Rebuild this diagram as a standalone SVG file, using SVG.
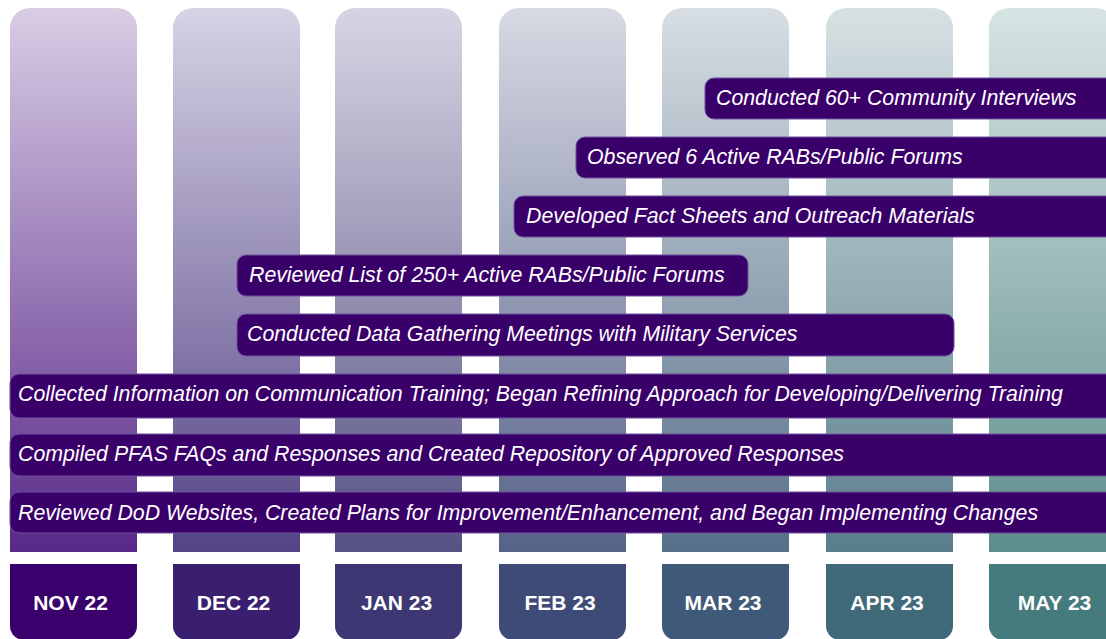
<svg xmlns="http://www.w3.org/2000/svg" width="1106" height="639" viewBox="0 0 1106 639">
  <defs>
    <linearGradient id="g1" x1="0" y1="0" x2="0" y2="1"><stop offset="0" stop-color="#d9cde4"/><stop offset="1" stop-color="#582888"/></linearGradient>
    <linearGradient id="g2" x1="0" y1="0" x2="0" y2="1"><stop offset="0" stop-color="#d7d2e4"/><stop offset="1" stop-color="#524385"/></linearGradient>
    <linearGradient id="g3" x1="0" y1="0" x2="0" y2="1"><stop offset="0" stop-color="#d7d5e3"/><stop offset="1" stop-color="#555183"/></linearGradient>
    <linearGradient id="g4" x1="0" y1="0" x2="0" y2="1"><stop offset="0" stop-color="#d7d9e3"/><stop offset="1" stop-color="#556288"/></linearGradient>
    <linearGradient id="g5" x1="0" y1="0" x2="0" y2="1"><stop offset="0" stop-color="#d7dee3"/><stop offset="1" stop-color="#566f89"/></linearGradient>
    <linearGradient id="g6" x1="0" y1="0" x2="0" y2="1"><stop offset="0" stop-color="#d7e1e3"/><stop offset="1" stop-color="#597e8b"/></linearGradient>
    <linearGradient id="g7" x1="0" y1="0" x2="0" y2="1"><stop offset="0" stop-color="#d7e4e3"/><stop offset="1" stop-color="#5c8d8c"/></linearGradient>
  </defs>
  <style>
    .bar { fill: #3a006a; stroke: #6c529c; stroke-width: 1; }
    .lbl { font-family: "Liberation Sans", Arial, sans-serif; font-style: italic; font-size: 21.3px; fill: #ffffff; }
    .mon { font-family: "Liberation Sans", Arial, sans-serif; font-weight: bold; font-size: 21px; fill: #ffffff; text-anchor: middle; }
  </style>

  <rect width="1106" height="639" fill="#ffffff"/>

  <!-- month columns: gradient backdrop plus label box -->
  <g id="col-nov22">
    <path d="M10,552 V28 A20,20 0 0 1 30,8 H117 A20,20 0 0 1 137,28 V552 Z" fill="url(#g1)"/>
    <path d="M10,564 H137 V626 A14,14 0 0 1 123,640 H24 A14,14 0 0 1 10,626 Z" fill="#3a006b"/>
    <text class="mon" x="70.5" y="610">NOV 22</text>
  </g>
  <g id="col-dec22">
    <path d="M173,552 V28 A20,20 0 0 1 193,8 H280 A20,20 0 0 1 300,28 V552 Z" fill="url(#g2)"/>
    <path d="M173,564 H300 V626 A14,14 0 0 1 286,640 H187 A14,14 0 0 1 173,626 Z" fill="#3a1e6f"/>
    <text class="mon" x="233.5" y="610">DEC 22</text>
  </g>
  <g id="col-jan23">
    <path d="M335,552 V28 A20,20 0 0 1 355,8 H442 A20,20 0 0 1 462,28 V552 Z" fill="url(#g3)"/>
    <path d="M335,564 H462 V626 A14,14 0 0 1 448,640 H349 A14,14 0 0 1 335,626 Z" fill="#3d3774"/>
    <text class="mon" x="396.5" y="610">JAN 23</text>
  </g>
  <g id="col-feb23">
    <path d="M499,552 V28 A20,20 0 0 1 519,8 H606 A20,20 0 0 1 626,28 V552 Z" fill="url(#g4)"/>
    <path d="M499,564 H626 V626 A14,14 0 0 1 612,640 H513 A14,14 0 0 1 499,626 Z" fill="#3e4b76"/>
    <text class="mon" x="560" y="610">FEB 23</text>
  </g>
  <g id="col-mar23">
    <path d="M662,552 V28 A20,20 0 0 1 682,8 H769 A20,20 0 0 1 789,28 V552 Z" fill="url(#g5)"/>
    <path d="M662,564 H789 V626 A14,14 0 0 1 775,640 H676 A14,14 0 0 1 662,626 Z" fill="#3f5a78"/>
    <text class="mon" x="723" y="610">MAR 23</text>
  </g>
  <g id="col-apr23">
    <path d="M826,552 V28 A20,20 0 0 1 846,8 H933 A20,20 0 0 1 953,28 V552 Z" fill="url(#g6)"/>
    <path d="M826,564 H953 V626 A14,14 0 0 1 939,640 H840 A14,14 0 0 1 826,626 Z" fill="#406a7a"/>
    <text class="mon" x="887" y="610">APR 23</text>
  </g>
  <g id="col-may23">
    <path d="M989,552 V28 A20,20 0 0 1 1009,8 H1096 A20,20 0 0 1 1116,28 V552 Z" fill="url(#g7)"/>
    <path d="M989,564 H1116 V626 A14,14 0 0 1 1102,640 H1003 A14,14 0 0 1 989,626 Z" fill="#457b7d"/>
    <text class="mon" x="1054.5" y="610">MAY 23</text>
  </g>

  <!-- activity bars -->
  <g id="act-interviews">
    <rect class="bar" x="705" y="78" width="420" height="41" rx="9"/>
    <text class="lbl" x="716" y="105">Conducted 60+ Community Interviews</text>
  </g>
  <g id="act-rabs-observed">
    <rect class="bar" x="576" y="137" width="550" height="41" rx="9"/>
    <text class="lbl" x="587" y="164">Observed 6 Active RABs/Public Forums</text>
  </g>
  <g id="act-fact-sheets">
    <rect class="bar" x="514" y="196" width="610" height="41" rx="9"/>
    <text class="lbl" x="526" y="223">Developed Fact Sheets and Outreach Materials</text>
  </g>
  <g id="act-rab-list">
    <rect class="bar" x="237" y="255" width="511" height="41" rx="9"/>
    <text class="lbl" x="249" y="282">Reviewed List of 250+ Active RABs/Public Forums</text>
  </g>
  <g id="act-data-gathering">
    <rect class="bar" x="237" y="314" width="717" height="42" rx="9"/>
    <text class="lbl" x="247" y="341">Conducted Data Gathering Meetings with Military Services</text>
  </g>
  <g id="act-training">
    <rect class="bar" x="10" y="374" width="1115" height="44" rx="9"/>
    <text class="lbl" x="18" y="401">Collected Information on Communication Training; Began Refining Approach for Developing/Delivering Training</text>
  </g>
  <g id="act-faqs">
    <rect class="bar" x="10" y="434" width="1115" height="42" rx="9"/>
    <text class="lbl" x="18" y="461">Compiled PFAS FAQs and Responses and Created Repository of Approved Responses</text>
  </g>
  <g id="act-websites">
    <rect class="bar" x="10" y="492" width="1115" height="41" rx="9"/>
    <text class="lbl" x="18" y="520">Reviewed DoD Websites, Created Plans for Improvement/Enhancement, and Began Implementing Changes</text>
  </g>

  <g id="connectors"/>
</svg>
